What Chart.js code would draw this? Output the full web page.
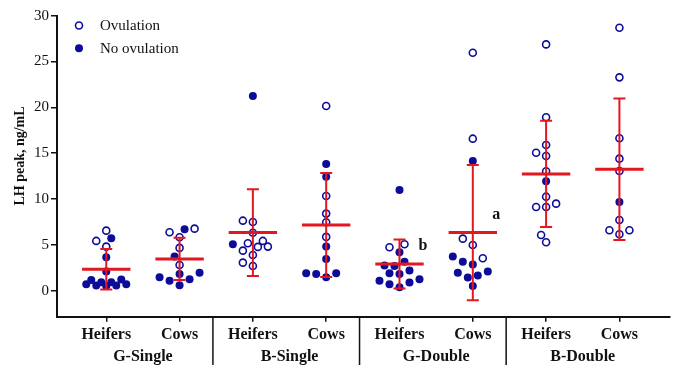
<!DOCTYPE html>
<html><head><meta charset="utf-8">
<script src="https://cdn.jsdelivr.net/npm/chart.js@4.4.1/dist/chart.umd.min.js"></script>
<style>html,body{margin:0;padding:0;background:#fff}#wrap{width:676px;height:365px}</style>
</head><body><div id="wrap"><canvas id="c" width="676" height="365"></canvas></div>
<script>
const categories = ['Heifers','Cows','Heifers','Cows','Heifers','Cows','Heifers','Cows'];
const groups = ['G-Single','B-Single','G-Double','B-Double'];
const yTicks = [0,5,10,15,20,25,30];
const ovulation = [
  [6.54, 5.42, 4.8],
  [6.76, 6.37, 5.82, 4.66, 2.8],
  [7.49, 7.63, 6.32, 5.42, 4.8, 4.36, 5.17, 4.77, 3.89, 2.69, 3.05],
  [20.14, 10.33, 8.4, 7.46, 5.86],
  [4.73, 5.06],
  [25.95, 16.58, 5.67, 4.98, 3.53],
  [26.87, 18.91, 15.89, 14.69, 15.05, 13.02, 10.25, 9.13, 9.13, 9.49, 6.07, 5.28],
  [28.68, 23.27, 16.62, 14.4, 13.05, 7.71, 6.59, 6.15, 6.59]
];
const noOvulation = [
  [5.71, 3.64, 2.07, 1.2, 0.9, 0.7, 0.55, 0.5, 0.55, 0.7, 0.9, 1.15],
  [6.7, 3.71, 1.96, 1.82, 1.46, 1.24, 1.06, 0.59],
  [21.23, 5.06],
  [13.82, 12.43, 4.8, 3.46, 1.9, 1.46, 1.82, 1.9],
  [10.98, 4.19, 2.69, 3.16, 2.73, 1.9, 1.82, 2.18, 1.24, 0.87, 0.37, 0.7, 1.06],
  [14.14, 3.71, 3.16, 2.84, 2.07, 1.64, 1.96, 1.42, 0.51],
  [11.93],
  [9.67]
];
const means = [2.33, 3.46, 6.33, 7.16, 2.91, 6.33, 12.73, 13.24];
const sds = [2.2, 2.3, 4.73, 5.67, 2.67, 7.38, 5.8, 7.71];
const letters = [{cat: 4, text: 'b'}, {cat: 5, text: 'a'}];

const NAVY = '#0c0c99';
const RED = '#e3171f';
const SERIF = '"Liberation Serif", "Times New Roman", serif';

function rawData(list) {
  const out = [];
  list.forEach((vals, i) => vals.forEach(v => out.push({x: i, y: v})));
  return out;
}

const decor = {
  id: 'decor',
  afterDatasetsDraw(chart) {
    const {ctx, scales: {x, y}} = chart;
    const unit = x.getPixelForValue(1) - x.getPixelForValue(0);
    ctx.save();
    ctx.strokeStyle = RED;
    means.forEach((m, i) => {
      const cx = x.getPixelForValue(i);
      const py = y.getPixelForValue(m);
      const top = y.getPixelForValue(m + sds[i]);
      const bot = y.getPixelForValue(m - sds[i]);
      ctx.lineWidth = 2;
      ctx.beginPath();
      ctx.moveTo(cx, top); ctx.lineTo(cx, bot);
      ctx.moveTo(cx - 0.082 * unit, top); ctx.lineTo(cx + 0.082 * unit, top);
      ctx.moveTo(cx - 0.082 * unit, bot); ctx.lineTo(cx + 0.082 * unit, bot);
      ctx.stroke();
      ctx.lineWidth = 3;
      ctx.beginPath();
      ctx.moveTo(cx - 0.33 * unit, py); ctx.lineTo(cx + 0.33 * unit, py);
      ctx.stroke();
    });
    ctx.fillStyle = '#111';
    ctx.font = 'bold 16px ' + SERIF;
    ctx.textAlign = 'center';
    ctx.textBaseline = 'middle';
    letters.forEach(l => {
      const cx = x.getPixelForValue(l.cat) + 0.32 * unit;
      const py = y.getPixelForValue(means[l.cat]) - 18;
      ctx.fillText(l.text, cx, py);
    });
    ctx.restore();
  },
  afterDraw(chart) {
    const {ctx, chartArea, scales: {x, y}} = chart;
    ctx.save();
    ctx.strokeStyle = '#111';
    ctx.lineWidth = 1.5;
    [1.455, 3.455, 5.455].forEach(v => {
      const px = x.getPixelForValue(v);
      ctx.beginPath();
      ctx.moveTo(px, chartArea.bottom); ctx.lineTo(px, 365);
      ctx.stroke();
    });
    ctx.fillStyle = '#111';
    ctx.font = 'bold 16px ' + SERIF;
    ctx.textAlign = 'center';
    ctx.textBaseline = 'middle';
    groups.forEach((g, k) => {
      ctx.fillText(g, x.getPixelForValue(2 * k + 0.5), 357);
    });
    ctx.save();
    ctx.translate(20.7, 156);
    ctx.rotate(-Math.PI / 2);
    ctx.font = 'bold 14px ' + SERIF;
    ctx.fillText('LH peak, ng/mL', 0, 0);
    ctx.restore();
    ctx.lineWidth = 1.6;
    ctx.strokeStyle = NAVY;
    ctx.fillStyle = '#fff';
    ctx.beginPath(); ctx.arc(79, 25.5, 3.5, 0, Math.PI * 2); ctx.fill(); ctx.stroke();
    ctx.fillStyle = NAVY;
    ctx.beginPath(); ctx.arc(79, 48.3, 4, 0, Math.PI * 2); ctx.fill();
    ctx.fillStyle = '#111';
    ctx.font = '15px ' + SERIF;
    ctx.textAlign = 'left';
    ctx.textBaseline = 'alphabetic';
    ctx.fillText('Ovulation', 100, 30);
    ctx.fillText('No ovulation', 100, 53);
    ctx.restore();
  }
};

const chart = new Chart(document.getElementById('c'), {
  type: 'scatter',
  data: {
    datasets: [
      {label: 'Ovulation', data: rawData(ovulation), pointRadius: 3.5, pointHoverRadius: 3.5,
       borderColor: NAVY, backgroundColor: '#fff', pointBorderWidth: 1.6, borderWidth: 1.6},
      {label: 'No ovulation', data: rawData(noOvulation), pointRadius: 4, pointHoverRadius: 4,
       borderColor: NAVY, backgroundColor: NAVY, pointBorderWidth: 0, borderWidth: 0}
    ]
  },
  options: {
    responsive: false,
    animation: false,
    devicePixelRatio: 1,
    layout: {padding: {top: 15.7, right: 6, left: 0, bottom: 0}},
    plugins: {legend: {display: false}, tooltip: {enabled: false}},
    scales: {
      x: {
        type: 'linear', min: -0.672, max: 7.69,
        afterBuildTicks: s => { s.ticks = categories.map((c, i) => ({value: i})); },
        afterFit: s => { s.height = 48.3; },
        ticks: {
          autoSkip: false, maxRotation: 0, padding: 4, color: '#111',
          font: {family: SERIF, size: 16, weight: 'bold'},
          callback: v => categories[Math.round(v)]
        },
        grid: {drawOnChartArea: false, drawTicks: true, tickLength: 5, color: '#111', lineWidth: 1.5},
        border: {color: '#111', width: 2}
      },
      y: {
        type: 'linear', min: -2.85, max: 30,
        afterBuildTicks: s => { s.ticks = yTicks.map(v => ({value: v})); },
        afterFit: s => { s.width = 57; },
        ticks: {padding: 2, color: '#111', font: {family: SERIF, size: 15}},
        grid: {drawOnChartArea: false, drawTicks: true, tickLength: 6, color: '#111', lineWidth: 1.5},
        border: {color: '#111', width: 2}
      }
    }
  },
  plugins: [decor]
});

// beeswarm layout computed from the chart's own scales
function swarm() {
  const x = chart.scales.x, y = chart.scales.y;
  const unit = x.getPixelForValue(1) - x.getPixelForValue(0);
  const offsets = [0, -5, 5, -10, 10, -15, 15, -20, 20];
  const minD = 8.5;
  const ovOut = [], noOut = [];
  categories.forEach((c, i) => {
    const pts = ovulation[i].map(v => ({v, t: 0})).concat(noOvulation[i].map(v => ({v, t: 1})));
    pts.sort((a, b) => a.v - b.v);
    const placed = [];
    pts.forEach(p => {
      const py = y.getPixelForValue(p.v);
      let best = 0, bestD = -1;
      for (const o of offsets) {
        let d = Infinity;
        placed.forEach(q => { d = Math.min(d, Math.hypot(q.o - o, q.py - py)); });
        if (d >= minD) { best = o; bestD = d; break; }
        if (d > bestD) { bestD = d; best = o; }
      }
      placed.push({o: best, py});
      const pt = {x: i + best / unit, y: p.v};
      (p.t === 0 ? ovOut : noOut).push(pt);
    });
  });
  chart.data.datasets[0].data = ovOut;
  chart.data.datasets[1].data = noOut;
  chart.update('none');
}
swarm();
</script></body></html>
